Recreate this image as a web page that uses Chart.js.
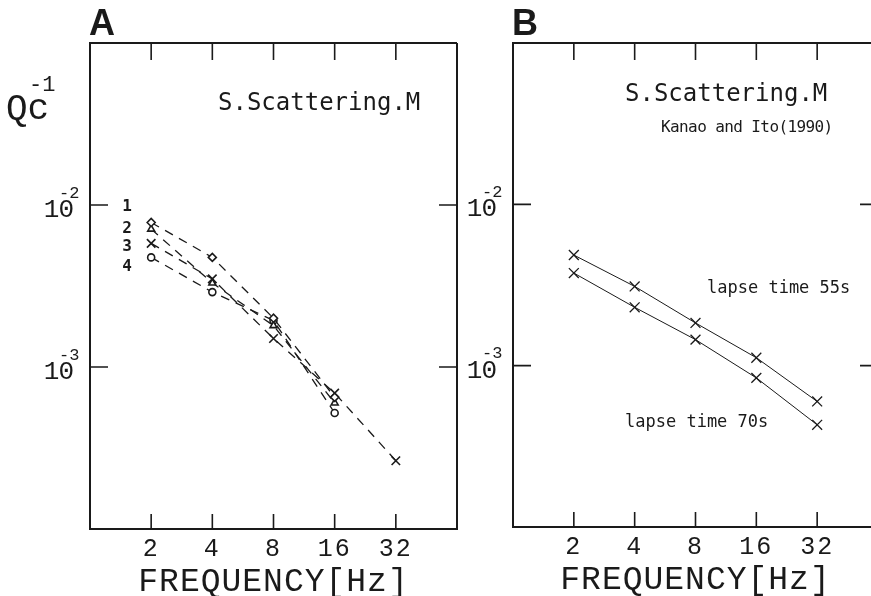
<!DOCTYPE html>
<html>
<head>
<meta charset="utf-8">
<script src="https://cdn.jsdelivr.net/npm/chart.js@4.4.0/dist/chart.umd.min.js"></script>
<style>
  html, body { margin: 0; padding: 0; background: #fff; }
  body { position: relative; width: 871px; height: 596px; overflow: hidden; }
  #wrapA { position: absolute; left: 0; top: 0; width: 460px; height: 596px; }
  #wrapB { position: absolute; left: 440px; top: 0; width: 440px; height: 596px; }
</style>
</head>
<body>
<div id="wrapA"><canvas id="chartA"></canvas></div>
<div id="wrapB"><canvas id="chartB"></canvas></div>
<script>
// frequencies (Hz) and the Qc^-1 tick values
var frequencies = [2, 4, 8, 16, 32];
var yTickValues = [1e-2, 1e-3];
var yTickLabels = ["2", "3"];

// panel A: S scattering model, curves 1-4
var qcA1 = [7.8e-3, 4.75e-3, 2.0e-3, 6.5e-4];
var qcA2 = [7.1e-3, 3.3e-3, 1.8e-3, 6.0e-4];
var qcA3 = [5.8e-3, 3.5e-3, 1.5e-3, 6.9e-4, 2.64e-4];
var qcA4 = [4.75e-3, 2.9e-3, 1.94e-3, 5.2e-4];

// panel B: Kanao and Ito (1990)
var qcB55 = [4.85e-3, 3.1e-3, 1.84e-3, 1.12e-3, 6.0e-4];
var qcB70 = [3.75e-3, 2.3e-3, 1.45e-3, 8.4e-4, 4.3e-4];

var MONO = "'DejaVu Sans Mono', monospace";
var THIN = "'Liberation Mono', 'DejaVu Sans Mono', monospace";
var INK = "#1a1a1a";

function toPoints(values) {
    return values.map((v, i) => ({ x: frequencies[i], y: v }));
}

function dashedSeries(values, style, radius) {
    return {
        data: toPoints(values),
        borderColor: INK,
        borderWidth: 1.3,
        borderDash: [9, 7],
        pointStyle: style,
        pointRadius: radius,
        pointBorderColor: INK,
        pointBackgroundColor: "#fff",
        pointBorderWidth: 1.6,
        fill: false,
        tension: 0,
    };
}

function solidSeries(values) {
    return {
        data: toPoints(values),
        borderColor: INK,
        borderWidth: 1,
        pointStyle: "crossRot",
        pointRadius: 7,
        pointBorderColor: INK,
        pointBorderWidth: 1.3,
        fill: false,
        tension: 0,
    };
}

function text(ctx, str, x, y, font, align, spacing) {
    ctx.font = font;
    ctx.textAlign = align || "left";
    ctx.textBaseline = "middle";
    ctx.letterSpacing = spacing || "0px";
    ctx.fillText(str, x, y);
}

//- frame, inner ticks, tick labels and notes -
var framePlugin = {
    id: "frame",
    afterDraw(chart, args, opts) {
        var ctx = chart.ctx;
        var a = chart.chartArea;
        var xs = chart.scales.x;
        var ys = chart.scales.y;
        ctx.save();
        ctx.strokeStyle = INK;
        ctx.fillStyle = INK;

        ctx.lineWidth = 2;
        ctx.beginPath();
        ctx.moveTo(a.right, a.top);
        ctx.lineTo(a.left, a.top);
        ctx.lineTo(a.left, a.bottom);
        ctx.lineTo(a.right, a.bottom);
        ctx.lineTo(a.right, a.top);
        ctx.stroke();

        ctx.lineWidth = 1.6;
        ctx.beginPath();
        frequencies.forEach((f) => {
            var x = xs.getPixelForValue(f);
            ctx.moveTo(x, a.top);
            ctx.lineTo(x, a.top + 17);
            ctx.moveTo(x, a.bottom);
            ctx.lineTo(x, a.bottom - 15);
        });
        yTickValues.forEach((v) => {
            var y = ys.getPixelForValue(v);
            ctx.moveTo(a.left, y);
            ctx.lineTo(a.left + 18, y);
            ctx.moveTo(a.right, y);
            ctx.lineTo(a.right - 18, y);
        });
        ctx.stroke();

        // x tick labels and axis title
        frequencies.forEach((f) => {
            text(ctx, String(f), xs.getPixelForValue(f), a.bottom + 20, "25px " + THIN, "center", "2px");
        });
        text(ctx, "FREQUENCY[Hz]", (a.left + a.right) / 2, a.bottom + 53, "33px " + THIN, "center", "1px");

        // y tick labels 10^-2, 10^-3
        yTickValues.forEach((v, i) => {
            var y = ys.getPixelForValue(v);
            text(ctx, "10", a.left - 17, y + 5, "26px " + THIN, "right", "-1px");
            text(ctx, "-" + yTickLabels[i], a.left - 31, y - 12, "17px " + THIN, "left");
        });

        (opts.notes || []).forEach((n) => {
            text(ctx, n.text, n.x, n.y, n.font, n.align, n.spacing);
        });
        ctx.restore();
    },
};

function makeChart(id, datasets, yWidth, xHeight, padRight, notes) {
    var canvas = document.getElementById(id).getContext("2d");
    return new Chart(canvas, {
        type: "line",
        data: { datasets: datasets },
        options: {
            responsive: true,
            maintainAspectRatio: false,
            animation: false,
            layout: {
                autoPadding: false,
                padding: { top: 43, right: padRight, left: 0, bottom: 0 },
            },
            plugins: {
                legend: { display: false },
                tooltip: { enabled: false },
                frame: { notes: notes },
            },
            scales: {
                x: {
                    type: "logarithmic",
                    min: 1,
                    max: 64,
                    ticks: { display: false },
                    grid: { display: false },
                    border: { display: false },
                    afterFit: (s) => { s.height = xHeight; },
                },
                y: {
                    type: "logarithmic",
                    min: 1e-4,
                    max: 1e-1,
                    ticks: { display: false },
                    grid: { display: false },
                    border: { display: false },
                    afterFit: (s) => { s.width = yWidth; },
                },
            },
        },
        plugins: [framePlugin],
    });
}

//Panel A
makeChart(
    "chartA",
    [
        dashedSeries(qcA1, "rectRot", 4),
        dashedSeries(qcA2, "triangle", 4),
        dashedSeries(qcA3, "crossRot", 6),
        dashedSeries(qcA4, "circle", 3.5),
    ],
    90, 67, 3,
    [
        { text: "A", x: 89, y: 25, font: "bold 36px 'Liberation Sans', Arial, sans-serif" },
        { text: "Qc", x: 6, y: 109, font: "36px " + THIN },
        { text: "-1", x: 29, y: 85, font: "22px " + THIN },
        { text: "S.Scattering.M", x: 218, y: 104, font: "24px " + MONO },
        { text: "1", x: 127, y: 207, font: "bold 16px " + MONO, align: "center" },
        { text: "2", x: 127, y: 229, font: "bold 16px " + MONO, align: "center" },
        { text: "3", x: 127, y: 247, font: "bold 16px " + MONO, align: "center" },
        { text: "4", x: 127, y: 267, font: "bold 16px " + MONO, align: "center" },
    ]
);

//Panel B
makeChart(
    "chartB",
    [solidSeries(qcB55), solidSeries(qcB70)],
    73, 69, 2,
    [
        { text: "B", x: 72, y: 25, font: "bold 36px 'Liberation Sans', Arial, sans-serif" },
        { text: "S.Scattering.M", x: 185, y: 95, font: "24px " + MONO },
        { text: "Kanao and Ito(1990)", x: 221, y: 128, font: "16px " + MONO, spacing: "-0.6px" },
        { text: "lapse time 55s", x: 267, y: 289, font: "17px " + MONO },
        { text: "lapse time 70s", x: 185, y: 423, font: "17px " + MONO },
    ]
);
</script>
</body>
</html>
